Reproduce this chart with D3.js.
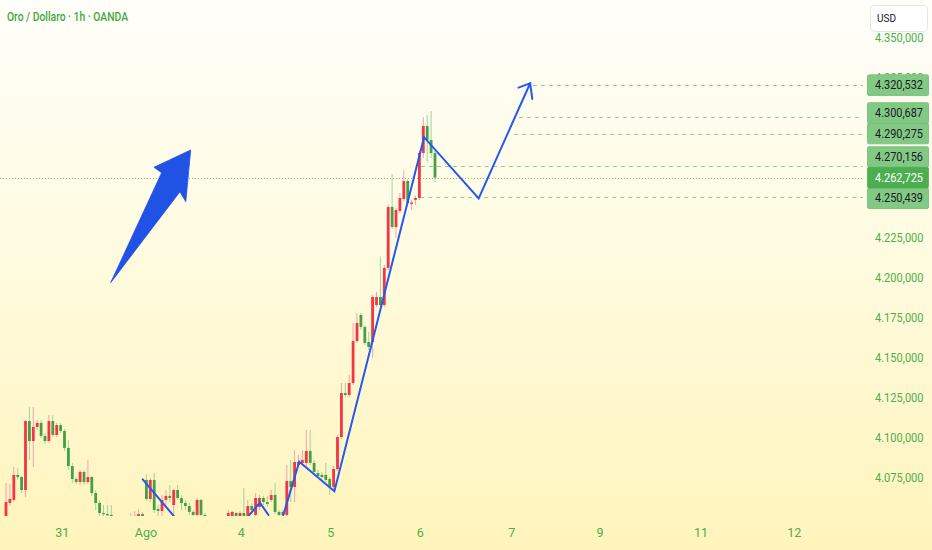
<!DOCTYPE html>
<html><head><meta charset="utf-8">
<script src="https://cdn.jsdelivr.net/npm/d3@7/dist/d3.min.js"></script>
<style>
html,body{margin:0;padding:0;overflow:hidden;background:#fffbe6}
svg{display:block}
text{font-family:Roboto,"Noto Sans",sans-serif}
</style></head>
<body>
<svg id="c" width="932" height="550"></svg>
<script>
// ---- DATA ----
const title = "Oro / Dollaro · 1h · OANDA";
// hourly candles (bar index = position in array)
const opens  = [4042.5,4059.4,4061.3,4076.9,4075.6,4067.5,4110.6,4098.1,4106.9,4109.4,4101.3,4098.1,4110.6,4101.9,4108.1,4104.4,4093.8,4082.5,4074.4,4072.5,4078.8,4072.5,4075.6,4065.6,4059.4,4053.1,4052.5,4051.9,4048.8,4045,4047.5,4042.5,4046.3,4048.8,4050,4052.5,4073.8,4061.9,4073.8,4055.6,4054.4,4061.3,4063.8,4058.1,4067.5,4062.5,4059.4,4057.5,4053.8,4051.9,4061.3,4051.9,4045.6,4041.3,4043.8,4038.8,4042.5,4047.5,4048.8,4053.1,4048.8,4053.1,4050,4057.5,4051.9,4056.9,4062.5,4060,4061.3,4064.4,4053.8,4053.8,4051.9,4073.1,4069.4,4083.1,4084.4,4084.4,4091.9,4084.4,4078.1,4076.9,4076.9,4074.4,4069.4,4080.6,4100.6,4128.1,4126.9,4134.4,4160.6,4176.9,4169.4,4160,4160,4183.1,4188.1,4183.1,4206.3,4244.4,4231.9,4241.9,4249.4,4260.6,4246.3,4248.8,4250,4278.1,4295,4286.3,4278.1];
const highs  = [4071.9,4071.3,4081.9,4081.3,4076.3,4111.3,4119.4,4119.4,4111.3,4111.3,4103.1,4114.4,4114.4,4109.4,4109.4,4105.6,4098.8,4084.4,4075.6,4080,4080,4086.3,4076.3,4067.5,4061.3,4058.1,4058.1,4058.1,4050,4049.4,4048.8,4050,4053.1,4054.4,4055.6,4053.8,4077.5,4075,4078.1,4058.1,4064.4,4067.5,4070.6,4068.1,4070.6,4064.4,4061.3,4059.4,4055,4062.5,4061.9,4053.1,4047.5,4046.3,4045,4045.6,4050,4055,4054.4,4053.8,4054.4,4068.8,4061.3,4059.4,4065.6,4064.4,4063.8,4063.8,4067.5,4071.9,4055,4055,4083.1,4086.3,4092.5,4089.4,4092.5,4105,4105,4086.3,4080,4078.8,4084.4,4075.6,4082.5,4101.9,4134.4,4134.4,4139.4,4171.9,4178.1,4178.1,4170.6,4166.3,4189.4,4191.3,4213.1,4208.1,4245.6,4265,4243.8,4253.1,4267.5,4261.9,4248.8,4251.3,4280,4300.6,4301.9,4304.4,4280];
const lows   = [4039.4,4057.5,4060,4073.8,4065.6,4063.1,4086.3,4081.9,4105,4100,4096.3,4096.9,4100.6,4100.6,4103.1,4091.9,4080,4071.9,4071.3,4070.6,4070.6,4071.3,4063.8,4055,4050,4050,4048.8,4046.3,4042.5,4042.5,4040,4040.6,4045,4046.3,4047.5,4045.6,4060.6,4060,4053.1,4051.3,4051.3,4056.3,4060,4051.9,4061.3,4055,4055,4051.9,4048.8,4048.8,4048.8,4043.8,4038.8,4039.4,4036.3,4036.3,4040.6,4045.6,4046.3,4045,4046.3,4046.3,4048.8,4052.5,4050,4055,4058.1,4056.9,4060,4052.5,4050,4048.8,4051.3,4060,4060,4081.9,4083.1,4082.5,4083.1,4077.5,4075,4074.4,4072.5,4064.4,4068.1,4079.4,4099.4,4125.6,4125.6,4133.1,4159.4,4167.5,4158.1,4155,4150,4181.9,4181.9,4181.9,4205,4230.6,4225,4240.6,4248.1,4245.6,4242.5,4245.6,4248.8,4275,4272.5,4275,4260];
const closes = [4060,4061.9,4076.9,4075.6,4067.5,4110.6,4098.1,4106.9,4109.4,4101.3,4098.1,4110.6,4101.9,4108.1,4104.4,4093.8,4082.5,4074.4,4072.5,4078.8,4072.5,4075.6,4065.6,4059.4,4053.1,4052.5,4052,4048.8,4045,4047.5,4042.5,4046.3,4050,4051.3,4052.5,4047.5,4061.9,4073.8,4055,4054.4,4061.3,4063.8,4062.5,4067.5,4062.5,4059.4,4057.5,4053.8,4051.9,4061.3,4051.9,4045.6,4041.3,4043.8,4038.8,4042.5,4047.5,4053.1,4053.8,4047.5,4053.1,4048.8,4057.5,4055,4062.5,4062.5,4060,4058.8,4064.4,4053.8,4051.9,4051.9,4073.1,4069.4,4085,4085,4086.3,4091.9,4084.4,4078.8,4076.3,4075.6,4073.8,4069.4,4080.6,4100.6,4128.1,4126.9,4134.4,4160.6,4171.9,4169.4,4159.4,4156.9,4188.1,4188.1,4183.1,4206.3,4244.4,4231.9,4242.5,4250,4260.6,4246.9,4247.2,4250,4278.1,4295,4286.3,4278.1,4262.725];
// x-axis day labels and their bar positions
const dayLabels = ["31","Ago","4","5","6","7","9","11","12"];
const dayBars   = [14.4,35.9,60.3,83.3,106.2,129.7,152.3,178.2,202.1];
// price axis ticks
const priceTicks = [4075,4100,4125,4150,4175,4200,4225,4250,4275,4300,4325,4350];
// horizontal levels and the bar where each starts
const levelValues = [4320.532,4300.687,4290.275,4270.156,4250.439];
const levelStart  = [135.1,131.5,130.3,106.4,106.2];
const currentPrice = 4262.725;
// drawn zig-zag projection [bar, price]
const mainPath  = [[71.1,4051.9],[75.2,4085.2],[84.2,4066.7],[107.2,4288],[121.2,4249.8],[134.4,4321.7]];
const arrowHead = [[131.4,4319],[134.4,4321.7],[134.95,4311.9]];
const leftPath  = [[35.05,4074.2],[44.5,4047]];
const smallZig  = [[62.4,4051.9],[65.1,4059.6],[67.3,4051.9]];
const bigArrow  = [[26.85,4197.1],[39.9,4265.8],[37.95,4269.2],[47.35,4280],[46.1,4247.7],[44.6,4253.9]];

// ---- CHART ----
const W = 932, H = 550, paneR = 863, paneB = 516;
const svg = d3.select("#c");
const defs = svg.append("defs");
const g = defs.append("linearGradient").attr("id","bg").attr("x1",0).attr("y1",0).attr("x2",0).attr("y2",1);
g.append("stop").attr("offset","0%").attr("stop-color","#fffefa");
g.append("stop").attr("offset","45%").attr("stop-color","#fffbe0");
g.append("stop").attr("offset","100%").attr("stop-color","#fff4bb");
defs.append("clipPath").attr("id","pane").append("rect").attr("x",0).attr("y",0).attr("width",paneR).attr("height",paneB);
svg.append("rect").attr("width",W).attr("height",H).attr("fill","url(#bg)");

const x = d3.scaleLinear().domain([0,220]).range([6,6+220*3.9]);
const y = d3.scaleLinear().domain([4075,4350]).range([478,38]);
const bodyW = 2.8;
const UP = "#f23645", DN = "#43a047", UPW = "#f4a3aa", DNW = "#9fd49f";

const pane = svg.append("g").attr("clip-path","url(#pane)");

// level lines
pane.selectAll("line.lvl").data(levelValues).join("line")
  .attr("x1",(d,i)=>x(levelStart[i])).attr("x2",paneR)
  .attr("y1",d=>Math.round(y(d))+0.5).attr("y2",d=>Math.round(y(d))+0.5)
  .attr("stroke","#8fd196").attr("stroke-width",1).attr("stroke-dasharray","4,4");
pane.append("line").attr("x1",0).attr("x2",paneR)
  .attr("y1",Math.round(y(currentPrice))+0.5).attr("y2",Math.round(y(currentPrice))+0.5)
  .attr("stroke","#7cc783").attr("stroke-width",1).attr("stroke-dasharray","1,2");

// candles
const idx = d3.range(closes.length);
pane.selectAll("line.wick").data(idx).join("line")
  .attr("x1",i=>x(i)).attr("x2",i=>x(i))
  .attr("y1",i=>y(highs[i])).attr("y2",i=>y(lows[i]))
  .attr("stroke",i=>closes[i]>=opens[i]?UPW:DNW).attr("stroke-width",1);
pane.selectAll("rect.body").data(idx).join("rect")
  .attr("x",i=>x(i)-bodyW/2).attr("width",bodyW)
  .attr("y",i=>y(Math.max(opens[i],closes[i])))
  .attr("height",i=>Math.max(1.2,Math.abs(y(opens[i])-y(closes[i]))))
  .attr("fill",i=>closes[i]>=opens[i]?UP:DN);

// drawings
const line = d3.line().x(d=>x(d[0])).y(d=>y(d[1]));
const BLUE = "#2458f0";
[mainPath,arrowHead,leftPath,smallZig].forEach(p=>{
  pane.append("path").attr("d",line(p)).attr("fill","none").attr("stroke",BLUE)
    .attr("stroke-width",2).attr("stroke-linejoin","miter").attr("stroke-linecap","round");
});
pane.append("path").attr("d",line(bigArrow)+"Z").attr("fill","#2052e6").attr("stroke","#2052e6").attr("stroke-width",0.8).attr("stroke-linejoin","round");

// price labels with collision stacking anchored at the current price
const lh = 20.6;
const fmt = d=>d3.format(",.3f")(d).replace(/,/g,"X").replace(/\./g,",").replace(/X/g,".");
const above = levelValues.filter(v=>v>currentPrice).sort((a,b)=>a-b);
const below = levelValues.filter(v=>v<currentPrice).sort((a,b)=>b-a);
const labs = [{v:currentPrice,cy:y(currentPrice),cur:true}];
let prev = y(currentPrice);
above.forEach(v=>{const c=Math.min(y(v),prev-lh);labs.push({v,cy:c});prev=c;});
prev = y(currentPrice);
below.forEach(v=>{const c=Math.max(y(v),prev+lh);labs.push({v,cy:c});prev=c;});
labs.sort((a,b)=>a.cur?1:b.cur?-1:0);

// price axis ticks (those fully hidden under a label box are not drawn, as in the reference)
const covered = t => labs.some(l => y(t)-4.5 >= l.cy-lh/2 && y(t)+4.5 <= l.cy+lh/2);
const axisG = svg.append("g");
axisG.selectAll("text.tick").data(priceTicks.filter(t=>!covered(t))).join("text")
  .attr("x",875).attr("y",d=>y(d)+4.2).attr("font-size",12)
  .attr("textLength",48.5).attr("lengthAdjust","spacingAndGlyphs").attr("fill","#4caf50")
  .text(d=>fmt(d));

const lg = svg.append("g");
lg.selectAll("rect").data(labs).join("rect")
  .attr("x",867.5).attr("width",61).attr("y",d=>d.cy-lh/2).attr("height",lh)
  .attr("rx",1.5)
  .attr("fill",d=>d.cur?"#4cae4f":"#83c986").attr("stroke",d=>d.cur?"#4cae4f":"#6fbd72").attr("stroke-width",0.8);
lg.selectAll("text").data(labs).join("text")
  .attr("x",875).attr("y",d=>d.cy+4.2).attr("font-size",12)
  .attr("textLength",48).attr("lengthAdjust","spacingAndGlyphs")
  .attr("fill",d=>d.cur?"#ffffff":"#1b1b1b").text(d=>fmt(d.v));

// USD box
svg.append("rect").attr("x",870.5).attr("y",5.5).attr("width",57).attr("height",26).attr("rx",4)
  .attr("fill","#ffffff").attr("stroke","#e6e6e0");
svg.append("text").attr("x",877).attr("y",22).attr("font-size",10).attr("fill","#131722").text("USD");

// time axis
svg.selectAll("text.day").data(dayLabels).join("text")
  .attr("x",(d,i)=>x(dayBars[i])).attr("y",537).attr("text-anchor","middle")
  .attr("font-size",12.5).attr("fill","#4caf50").text(d=>d);

// title
svg.append("text").attr("x",7).attr("y",21).attr("font-size",12).attr("font-weight",500)
  .attr("textLength",121).attr("lengthAdjust","spacingAndGlyphs")
  .attr("fill","#43a843").text(title);
</script>
</body></html>
